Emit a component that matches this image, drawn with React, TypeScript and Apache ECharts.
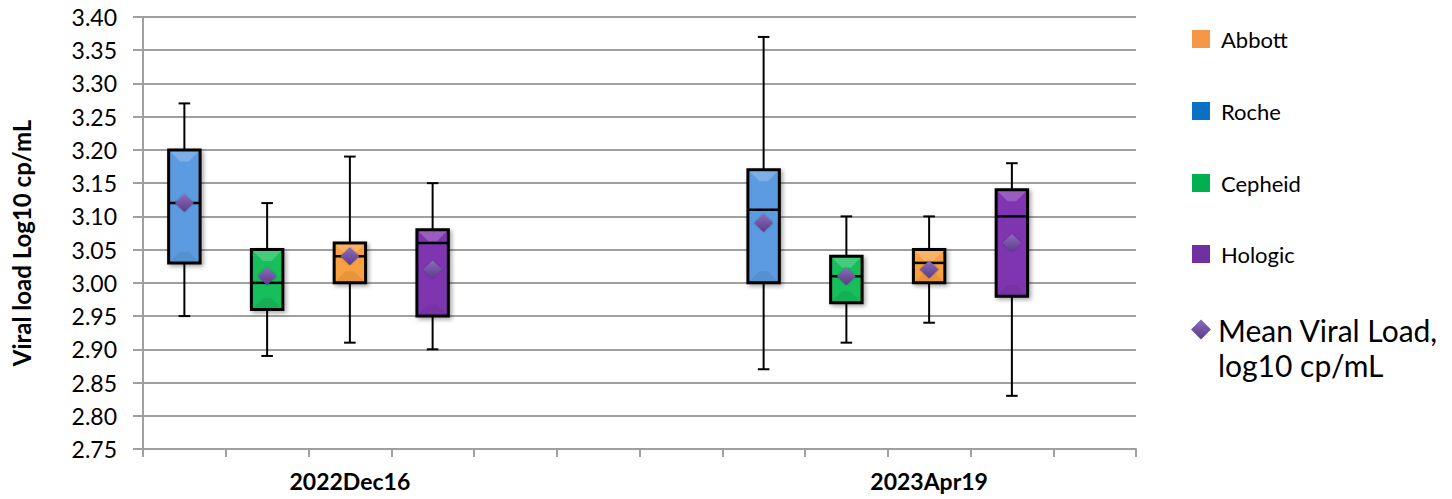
import React, { useEffect, useRef } from "react";
import * as echarts from "echarts";

// ---- data ----
const xLabels = ["", "", "2022Dec16", "", "", "", "", "", "", "2023Apr19", "", ""];
const yTicks = { min: 2.75, max: 3.4, step: 0.05 };

const manufacturers = ["Roche", "Cepheid", "Abbott", "Hologic"];
const legendOrder = ["Abbott", "Roche", "Cepheid", "Hologic"];
const meanName = "Mean Viral Load, log10 cp/mL";

// one entry per box (two test dates x four manufacturers)
const boxCategory = [0, 1, 2, 3, 7, 8, 9, 10];
const boxMaker = [0, 1, 2, 3, 0, 1, 2, 3];
const minVals = [2.95, 2.89, 2.91, 2.9, 2.87, 2.91, 2.94, 2.83];
const q1Vals = [3.03, 2.96, 3.0, 2.95, 3.0, 2.97, 3.0, 2.98];
const medianVals = [3.12, 3.0, 3.04, 3.06, 3.11, 3.01, 3.03, 3.1];
const q3Vals = [3.2, 3.05, 3.06, 3.08, 3.17, 3.04, 3.05, 3.14];
const maxVals = [3.27, 3.12, 3.19, 3.15, 3.37, 3.1, 3.1, 3.18];
const meanVals = [3.12, 3.01, 3.04, 3.02, 3.09, 3.01, 3.02, 3.06];

// ---- styles ----
const boxFill: Record<string, string> = {
  Roche: "#5B9BE0",
  Cepheid: "#18BE5C",
  Abbott: "#F9A041",
  Hologic: "#8034B0",
};
const legendColor: Record<string, string> = {
  Abbott: "#F79646",
  Roche: "#0A70C6",
  Cepheid: "#00B050",
  Hologic: "#7030A0",
};
const FONT = "Lato";

export default function App() {
  const ref = useRef<HTMLDivElement>(null);

  useEffect(() => {
    if (!ref.current) return;
    const chart = echarts.init(ref.current, null, { renderer: "svg" });

    const boxData = boxCategory.map((c, i) => [
      c,
      minVals[i],
      q1Vals[i],
      medianVals[i],
      q3Vals[i],
      maxVals[i],
      boxMaker[i],
    ]);
    const meanData = boxCategory.map((c, i) => [c, meanVals[i]]);

    const renderItem = (params: any, api: any) => {
      const x = api.value(0);
      const lo = api.coord([x, api.value(1)]);
      const q1 = api.coord([x, api.value(2)]);
      const med = api.coord([x, api.value(3)]);
      const q3 = api.coord([x, api.value(4)]);
      const hi = api.coord([x, api.value(5)]);
      const maker = manufacturers[api.value(6)];
      const slot = api.size([1, 0])[0];
      const bw = slot * 0.38;
      const cw = slot * 0.14;
      const cx = lo[0];
      const left = cx - bw / 2;
      const right = cx + bw / 2;
      const bev = Math.min(10, (q1[1] - q3[1]) / 3);
      return {
        type: "group",
        children: [
          {
            type: "line",
            shape: { x1: cx, y1: hi[1], x2: cx, y2: lo[1] },
            style: { stroke: "#000", lineWidth: 2 },
          },
          {
            type: "line",
            shape: { x1: cx - cw / 2, y1: hi[1], x2: cx + cw / 2, y2: hi[1] },
            style: { stroke: "#000", lineWidth: 2 },
          },
          {
            type: "line",
            shape: { x1: cx - cw / 2, y1: lo[1], x2: cx + cw / 2, y2: lo[1] },
            style: { stroke: "#000", lineWidth: 2 },
          },
          {
            type: "rect",
            shape: { x: left, y: q3[1], width: bw, height: q1[1] - q3[1] },
            style: {
              fill: boxFill[maker],
              stroke: "#000",
              lineWidth: 3,
              shadowBlur: 4,
              shadowOffsetX: 2,
              shadowOffsetY: 2,
              shadowColor: "rgba(0,0,0,0.35)",
            },
          },
          {
            type: "polygon",
            shape: {
              points: [
                [left + 1.5, q3[1] + 1.5],
                [right - 1.5, q3[1] + 1.5],
                [right - 1.5 - bev, q3[1] + 1.5 + bev],
                [left + 1.5 + bev, q3[1] + 1.5 + bev],
              ],
            },
            style: { fill: "rgba(255,255,255,0.2)" },
          },
          {
            type: "polygon",
            shape: {
              points: [
                [left + 1.5, q1[1] - 1.5],
                [right - 1.5, q1[1] - 1.5],
                [right - 1.5 - bev, q1[1] - 1.5 - bev],
                [left + 1.5 + bev, q1[1] - 1.5 - bev],
              ],
            },
            style: { fill: "rgba(0,0,0,0.07)" },
          },
          {
            type: "line",
            shape: { x1: left, y1: med[1], x2: right, y2: med[1] },
            style: { stroke: "#000", lineWidth: 2.5 },
          },
        ],
      };
    };

    const squareLegendTops = [28, 100, 172, 243];
    const legends: any[] = legendOrder.map((name, i) => ({
      data: [{ name, icon: "rect" }],
      left: 1192,
      top: squareLegendTops[i],
      padding: 0,
      itemWidth: 18,
      itemHeight: 18,
      selectedMode: false,
      textStyle: {
        fontFamily: FONT,
        fontSize: 22,
        color: "#000",
        lineHeight: 18,
        padding: [0, 0, 0, 6],
      },
    }));
    legends.push({
      data: [{ name: meanName, icon: "diamond" }],
      left: 1191,
      top: 277,
      padding: 0,
      itemWidth: 20,
      itemHeight: 20,
      selectedMode: false,
      formatter: () => "\nMean Viral Load,\nlog10 cp/mL",
      textStyle: {
        fontFamily: FONT,
        fontSize: 30,
        color: "#000",
        lineHeight: 35,
        padding: [0, 0, 0, 2],
      },
    });

    chart.setOption({
      animation: false,
      backgroundColor: "#fff",
      legend: legends,
      grid: { left: 143, right: 316, top: 17, bottom: 50, outerBoundsMode: "none", containLabel: false },
      xAxis: {
        type: "category",
        data: xLabels,
        boundaryGap: true,
        axisLine: { lineStyle: { color: "#A0A0A0", width: 2 } },
        axisTick: { show: true, interval: 0, length: 8, lineStyle: { color: "#A0A0A0", width: 2 } },
        axisLabel: {
          interval: 0,
          margin: 20,
          fontFamily: FONT,
          fontWeight: "bold",
          fontSize: 23,
          color: "#000",
        },
        splitLine: { show: false },
      },
      yAxis: {
        type: "value",
        min: yTicks.min,
        max: yTicks.max,
        interval: yTicks.step,
        name: "Viral load Log10 cp/mL",
        nameLocation: "middle",
        nameGap: 110,
        nameTextStyle: {
          fontFamily: FONT,
          fontWeight: "bold",
          fontSize: 24,
          color: "#000",
          padding: [0, 20, 0, 0],
        },
        axisLine: { show: true, lineStyle: { color: "#A0A0A0", width: 2 } },
        axisTick: { show: true, length: 10, lineStyle: { color: "#A0A0A0", width: 2 } },
        axisLabel: {
          margin: 26,
          fontFamily: FONT,
          fontSize: 23,
          color: "#000",
          formatter: (v: number) => v.toFixed(2),
        },
        splitLine: { show: true, lineStyle: { color: "#A0A0A0", width: 2 } },
      },
      series: [
        ...legendOrder.map((name) => ({
          name,
          type: "scatter",
          data: [],
          itemStyle: { color: legendColor[name], opacity: 1 },
        })),
        {
          name: "boxes",
          type: "custom",
          renderItem,
          data: boxData,
          encode: { x: 0, y: [1, 2, 3, 4, 5] },
          z: 2,
        },
        {
          name: meanName,
          type: "scatter",
          data: meanData,
          symbol: "diamond",
          symbolSize: [19, 18],
          z: 5,
          itemStyle: {
            opacity: 1,
            color: new echarts.graphic.LinearGradient(0, 0, 0, 1, [
              { offset: 0, color: "#8C6CBE" },
              { offset: 1, color: "#5A3C86" },
            ]),
            shadowBlur: 2,
            shadowColor: "rgba(0,0,0,0.3)",
          },
        },
      ],
    });

    return () => chart.dispose();
  }, []);

  return (
    <div
      ref={ref}
      style={{ position: "fixed", left: 0, top: 0, width: 1452, height: 499, background: "#fff" }}
    />
  );
}
